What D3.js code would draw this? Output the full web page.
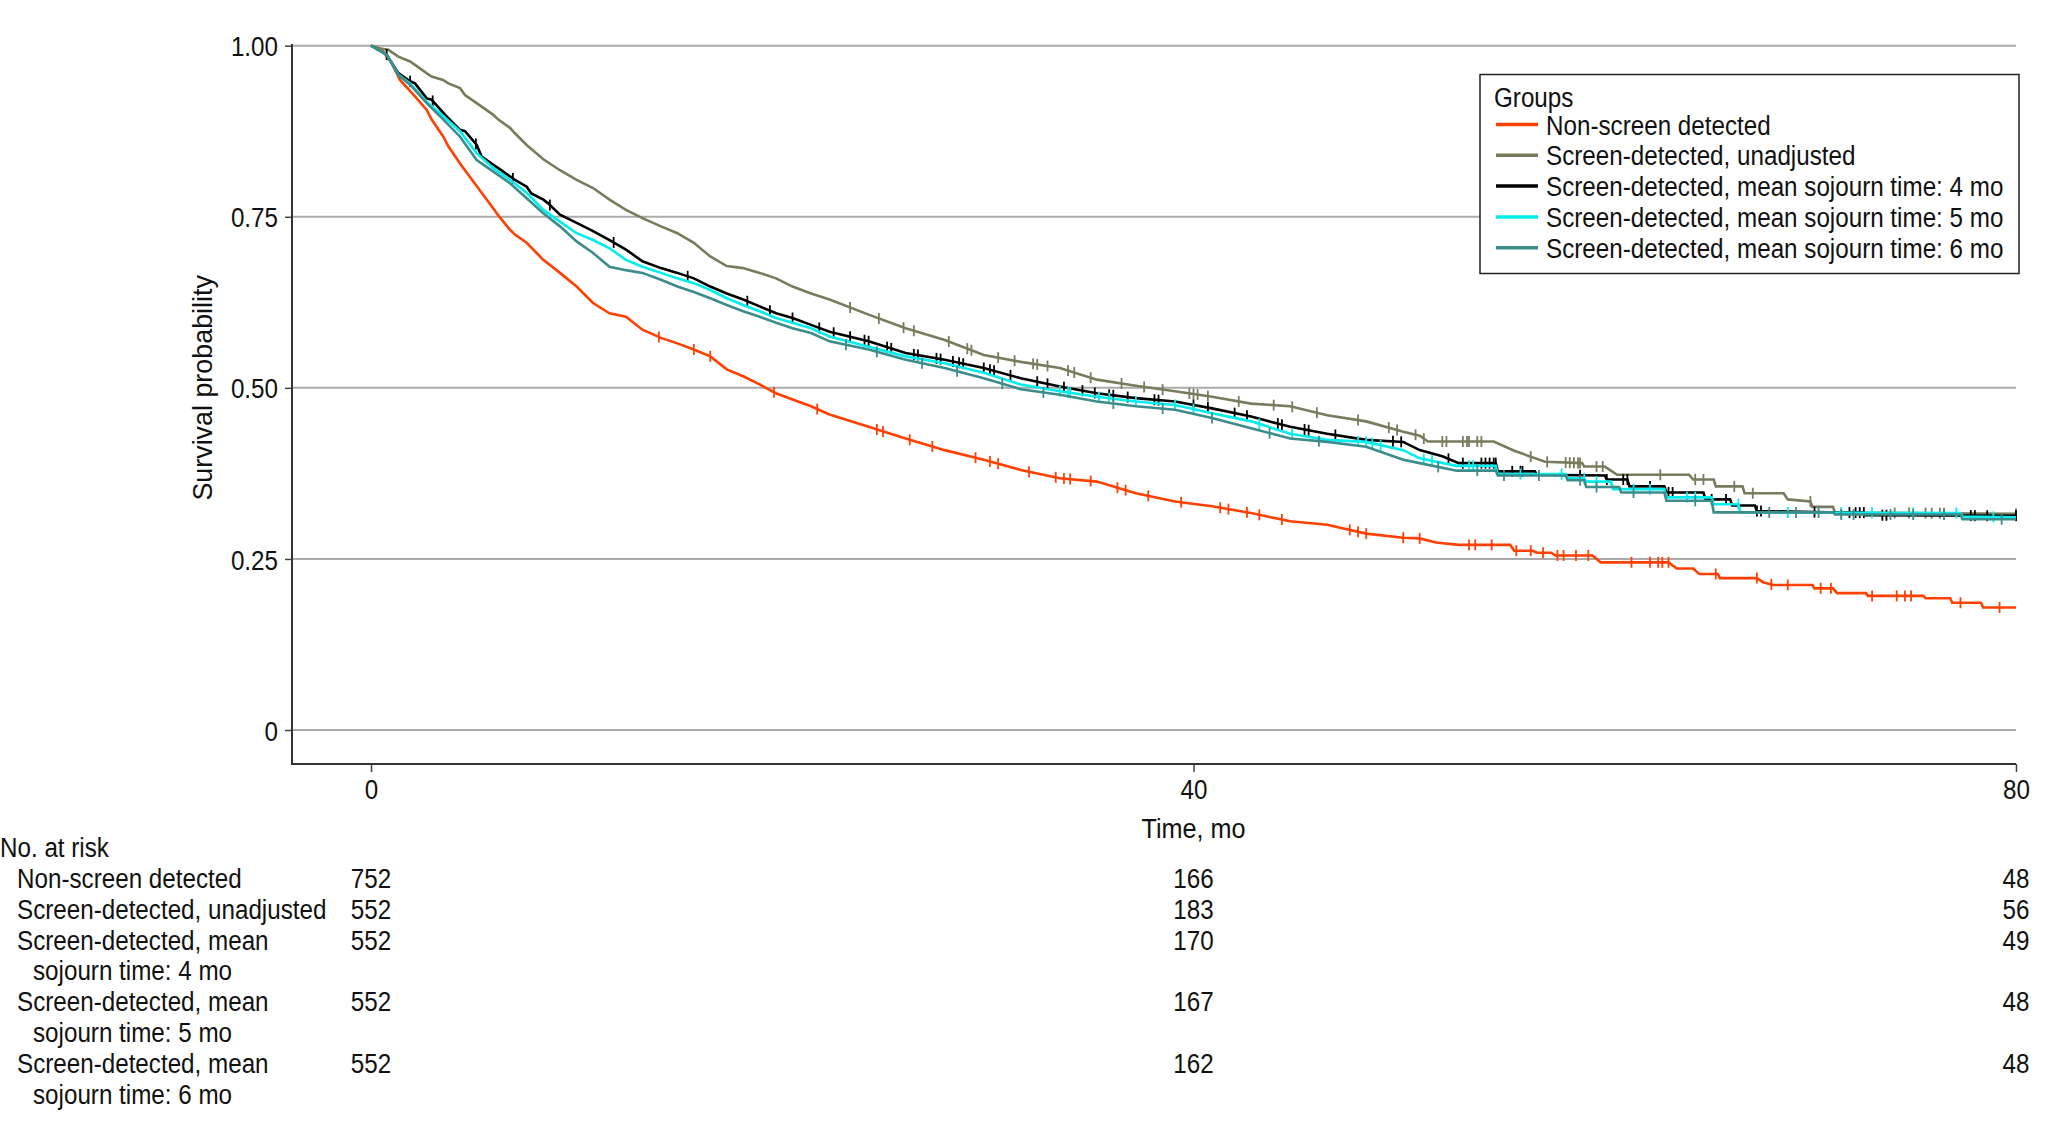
<!DOCTYPE html>
<html>
<head>
<meta charset="utf-8">
<script src="https://cdn.jsdelivr.net/npm/d3@7/dist/d3.min.js"></script>
<style>
  html, body { margin: 0; padding: 0; background: #fff; }
  svg text { font-family: "Liberation Sans", Arial, sans-serif; fill: #111; }
</style>
</head>
<body>
<svg id="chart" width="2048" height="1132"></svg>
<script>
// ---------------- DATA ----------------
const groupNames = [
  "Non-screen detected",
  "Screen-detected, unadjusted",
  "Screen-detected, mean sojourn time: 4 mo",
  "Screen-detected, mean sojourn time: 5 mo",
  "Screen-detected, mean sojourn time: 6 mo"
];
const groupColors = ["#FF4000", "#7A7A5C", "#000000", "#00EEEE", "#3C8C8C"];

// Kaplan-Meier curves: [time (mo), survival probability]
const survNonScreen = [[0,1],[0.5,0.995],[1.0,0.975],[1.41,0.95],[2.14,0.926],[2.71,0.906],[2.95,0.892],[3.52,0.867],[3.76,0.853],[4.33,0.828],[4.57,0.818],[5.14,0.795],[5.38,0.785],[5.95,0.762],[6.19,0.752],[6.76,0.731],[7.0,0.724],[7.57,0.712],[8.38,0.687],[9.19,0.668],[10.0,0.648],[10.8,0.624],[11.6,0.609],[12.4,0.604],[13.2,0.585],[14.1,0.573],[14.9,0.565],[15.7,0.556],[16.5,0.546],[17.3,0.527],[18.1,0.517],[18.9,0.505],[19.7,0.492],[20.5,0.483],[21.4,0.473],[22.3,0.461],[24.2,0.443],[26.0,0.426],[27.9,0.409],[29.8,0.395],[31.6,0.380],[33.5,0.368],[35.3,0.363],[37.2,0.346],[39.1,0.334],[40.9,0.327],[42.8,0.317],[44.7,0.305],[46.5,0.300],[48.4,0.287],[50.2,0.281],[51.0,0.280],[51.8,0.274],[52.9,0.2705],[55.4,0.2705],[55.6,0.262],[56.5,0.262],[56.7,0.259],[57.4,0.259],[57.6,0.255],[59.4,0.255],[59.8,0.245],[63.1,0.245],[63.5,0.236],[64.3,0.236],[64.6,0.228],[65.5,0.228],[65.6,0.222],[67.4,0.222],[67.7,0.216],[68.2,0.212],[70.1,0.212],[70.2,0.207],[71.1,0.207],[71.3,0.200],[72.7,0.200],[72.8,0.196],[75.5,0.196],[75.6,0.1925],[76.8,0.1925],[76.9,0.186],[78.3,0.186],[78.4,0.179],[80,0.179]];
const survUnadjusted = [[0,1],[0.44,0.996],[0.84,0.994],[1.33,0.984],[1.9,0.977],[2.14,0.972],[2.7,0.96],[2.95,0.955],[3.5,0.95],[3.76,0.945],[4.33,0.938],[4.57,0.928],[5.14,0.916],[5.38,0.911],[5.95,0.899],[6.19,0.892],[6.76,0.88],[7.0,0.872],[7.57,0.855],[8.38,0.834],[9.19,0.818],[10.0,0.804],[10.8,0.792],[11.6,0.775],[12.4,0.76],[13.2,0.748],[14.1,0.736],[14.9,0.726],[15.7,0.712],[16.5,0.692],[17.3,0.678],[18.1,0.675],[18.9,0.668],[19.7,0.66],[20.5,0.648],[21.4,0.638],[22.3,0.629],[24.2,0.607],[26.0,0.587],[27.9,0.570],[29.8,0.548],[31.6,0.538],[33.5,0.529],[35.3,0.512],[37.2,0.503],[39.1,0.495],[40.9,0.487],[42.8,0.477],[44.7,0.473],[46.5,0.460],[48.4,0.451],[50.2,0.436],[51.0,0.430],[51.4,0.4215],[54.6,0.4215],[55.6,0.408],[57.1,0.392],[58.9,0.390],[59.0,0.385],[60.0,0.385],[60.6,0.373],[64.1,0.373],[64.3,0.366],[65.3,0.366],[65.4,0.356],[66.7,0.356],[66.8,0.346],[68.7,0.346],[68.9,0.337],[70.0,0.334],[70.1,0.326],[71.1,0.326],[71.2,0.3177],[80,0.316]];
const survMst4 = [[0,1],[0.76,0.987],[1.33,0.96],[1.9,0.948],[2.14,0.945],[2.71,0.923],[2.95,0.921],[3.52,0.902],[3.76,0.894],[4.33,0.877],[4.57,0.875],[5.14,0.855],[5.38,0.838],[5.95,0.826],[6.19,0.821],[6.76,0.809],[7.0,0.804],[7.57,0.794],[7.8,0.784],[8.38,0.775],[8.6,0.770],[9.19,0.753],[10.0,0.741],[10.8,0.729],[11.6,0.716],[12.4,0.702],[13.2,0.685],[14.1,0.675],[14.9,0.668],[15.7,0.66],[16.5,0.648],[17.3,0.638],[18.1,0.629],[18.9,0.619],[19.7,0.609],[20.5,0.602],[21.4,0.592],[22.3,0.582],[24.2,0.568],[26.0,0.551],[27.9,0.541],[29.8,0.529],[31.6,0.514],[33.5,0.502],[35.3,0.492],[37.2,0.485],[39.1,0.480],[40.9,0.470],[42.8,0.458],[44.7,0.443],[46.5,0.433],[48.4,0.424],[50.2,0.421],[51.0,0.409],[52.1,0.400],[52.9,0.390],[54.7,0.390],[54.8,0.378],[56.6,0.378],[56.7,0.373],[60.0,0.372],[60.1,0.366],[61.1,0.366],[61.2,0.356],[62.9,0.356],[63.0,0.347],[64.8,0.347],[64.9,0.337],[66.1,0.337],[66.2,0.328],[67.3,0.328],[67.4,0.320],[71.5,0.3177],[72.6,0.3177],[72.7,0.314],[80,0.313]];
const survMst5 = [[0,1],[0.76,0.987],[1.33,0.958],[1.9,0.945],[2.71,0.918],[3.52,0.897],[4.33,0.875],[5.14,0.843],[5.95,0.821],[6.76,0.804],[7.57,0.785],[8.38,0.760],[9.19,0.743],[10.0,0.726],[10.8,0.716],[11.6,0.704],[12.4,0.687],[13.2,0.677],[14.1,0.668],[14.9,0.660],[15.7,0.653],[16.5,0.643],[17.3,0.631],[18.1,0.621],[18.9,0.612],[19.7,0.602],[20.5,0.595],[21.4,0.587],[22.3,0.575],[24.2,0.560],[26.0,0.546],[27.9,0.536],[29.8,0.522],[31.6,0.505],[33.5,0.495],[35.3,0.487],[37.2,0.480],[39.1,0.475],[40.9,0.463],[42.8,0.451],[44.7,0.433],[46.5,0.424],[48.4,0.421],[50.2,0.409],[51.0,0.397],[52.8,0.386],[54.7,0.386],[54.8,0.374],[58.1,0.374],[58.2,0.368],[59.0,0.368],[59.1,0.363],[60.3,0.363],[60.4,0.352],[62.9,0.352],[63.0,0.340],[65.2,0.340],[65.3,0.330],[66.5,0.330],[66.6,0.318],[77.3,0.317],[77.4,0.312],[80,0.311]];
const survMst6 = [[0,1],[0.76,0.987],[1.33,0.957],[1.9,0.943],[2.71,0.916],[3.52,0.892],[4.33,0.867],[5.14,0.833],[5.95,0.816],[6.76,0.799],[7.57,0.777],[8.38,0.755],[9.19,0.736],[10.0,0.714],[10.8,0.697],[11.6,0.677],[12.4,0.672],[13.2,0.668],[14.1,0.658],[14.9,0.648],[15.7,0.640],[16.5,0.631],[17.3,0.621],[18.1,0.612],[18.9,0.604],[19.7,0.595],[20.5,0.587],[21.4,0.580],[22.3,0.568],[24.2,0.556],[26.0,0.541],[27.9,0.529],[29.8,0.514],[31.6,0.498],[33.5,0.490],[35.3,0.480],[37.2,0.473],[39.1,0.468],[40.9,0.456],[42.8,0.441],[44.7,0.426],[46.5,0.421],[48.4,0.414],[50.2,0.395],[51.0,0.390],[52.8,0.379],[54.7,0.379],[54.8,0.372],[58.1,0.372],[58.2,0.365],[59.0,0.365],[59.1,0.355],[60.7,0.355],[60.8,0.347],[62.9,0.347],[63.0,0.335],[65.2,0.335],[65.3,0.318],[71.1,0.318],[71.2,0.315],[77.3,0.315],[77.4,0.308],[80,0.308]];

// Censoring times (mo)
const censNonScreen = [14.0,15.7,16.5,19.6,21.7,24.6,24.9,26.2,27.3,29.4,30.1,30.5,32.0,33.3,33.7,34.0,35.0,36.3,36.7,37.8,39.4,41.3,41.7,42.6,43.2,44.3,47.6,48.0,48.4,50.2,51.0,53.4,53.7,54.5,55.7,56.4,57.0,57.7,58.0,58.6,59.2,61.3,62.2,62.6,62.8,63.1,65.4,67.4,68.1,68.9,70.5,71.0,73.0,74.2,74.6,74.9,77.3,79.2];
const censUnadjusted = [23.3,24.7,25.9,26.4,28.1,29.0,29.2,30.5,31.3,32.2,32.4,32.9,33.9,34.2,35.0,36.5,37.6,38.5,39.8,40.0,40.2,40.7,42.2,43.9,44.8,46.0,48.0,49.5,49.9,50.8,51.2,52.1,52.3,53.1,53.3,53.4,53.8,54.0,56.4,57.2,58.1,58.3,58.5,58.7,58.8,59.6,59.9,62.7,64.4,64.8,66.3,67.2,70.0,74.1,74.8,75.6,75.9,76.3,76.5,80.0];
const censMst4 = [0.76,1.9,3.0,5.1,6.9,8.7,11.8,15.4,18.3,19.4,20.5,21.8,22.5,23.3,24.0,24.2,25.1,25.3,26.4,26.6,27.5,27.7,28.3,28.6,28.8,29.8,30.1,30.3,31.1,32.4,32.9,33.7,34.6,35.2,35.9,36.1,36.8,38.1,38.3,40.0,40.7,42.0,42.6,44.1,44.3,45.4,45.6,46.9,49.7,50.1,52.4,53.1,54.0,54.2,54.4,54.6,54.7,55.5,55.9,56.0,58.8,60.1,60.9,61.1,62.2,63.1,63.3,65.2,65.9,67.4,67.6,70.2,71.9,72.2,72.4,72.6,73.5,73.7,77.8,78.0,78.6,80.0];
const censMst5 = [33.5,33.9,34.0,35.4,35.9,37.2,39.1,40.0,43.2,44.8,48.0,48.4,48.7,49.1,51.2,51.6,53.4,53.6,55.9,57.9,59.0,59.6,61.4,62.2,64.0,64.4,66.5,68.9,71.5,73.0,75.0,77.1,78.9];
const censMst6 = [23.1,24.6,26.8,28.5,30.7,32.7,36.1,38.5,40.9,43.7,46.1,51.9,53.8,55.1,56.8,58.8,59.6,61.4,64.4,68.0,69.3,70.4,71.5,72.1,73.9,75.0,76.5,79.3];

const xTicks = [0, 40, 80];
const yTicks = [0, 0.25, 0.5, 0.75, 1];
const yTickLabels = ["0", "0.25", "0.50", "0.75", "1.00"];

const riskLabels = [
  ["Non-screen detected"],
  ["Screen-detected, unadjusted"],
  ["Screen-detected, mean", "sojourn time: 4 mo"],
  ["Screen-detected, mean", "sojourn time: 5 mo"],
  ["Screen-detected, mean", "sojourn time: 6 mo"]
];
const riskValues = [
  [752, 166, 48],
  [552, 183, 56],
  [552, 170, 49],
  [552, 167, 48],
  [552, 162, 48]
];

// ---------------- DRAW ----------------
const curves = [survNonScreen, survUnadjusted, survMst4, survMst5, survMst6];
const censors = [censNonScreen, censUnadjusted, censMst4, censMst5, censMst6];

const svg = d3.select("#chart");
const axisLeftX = 292, axisBottomY = 764;
const x = d3.scaleLinear().domain([0, 80]).range([371, 2016]);
const y = d3.scaleLinear().domain([0, 1]).range([730, 45.7]);
const FS = 28;      // font size
const SX = 0.865;   // horizontal condensing of the type

function txt(parent, px, py, str, anchor, sx) {
  return parent.append("text")
    .attr("transform", `translate(${px},${py}) scale(${sx || SX},1)`)
    .attr("text-anchor", anchor || "start")
    .attr("font-size", FS)
    .text(str);
}

// gridlines
svg.append("g").selectAll("line").data(yTicks).join("line")
  .attr("x1", axisLeftX).attr("x2", x(80))
  .attr("y1", d => y(d)).attr("y2", d => y(d))
  .attr("stroke", "#ababab").attr("stroke-width", 2);

// y axis
const yAxis = svg.append("g").attr("transform", `translate(${axisLeftX},0)`)
  .call(d3.axisLeft(y).tickValues(yTicks).tickFormat((d, i) => yTickLabels[i]).tickSize(7).tickPadding(7));
yAxis.select(".domain").remove();
yAxis.selectAll(".tick line").attr("stroke", "#444").attr("stroke-width", 1.5);
yAxis.selectAll(".tick text").attr("font-size", FS).attr("dy", "0.36em")
  .attr("x", -14 / SX).attr("transform", `scale(${SX},1)`);

// x axis
const xAxis = svg.append("g").attr("transform", `translate(0,${axisBottomY})`)
  .call(d3.axisBottom(x).tickValues(xTicks).tickFormat(d3.format("d")).tickSize(8).tickPadding(7));
xAxis.select(".domain").remove();
xAxis.selectAll(".tick line").attr("stroke", "#444").attr("stroke-width", 1.5);
xAxis.selectAll(".tick text").attr("font-size", FS).attr("transform", `scale(${SX},1)`);

// axis lines
svg.append("line").attr("x1", axisLeftX).attr("x2", axisLeftX).attr("y1", 44).attr("y2", axisBottomY)
  .attr("stroke", "#333").attr("stroke-width", 2);
svg.append("line").attr("x1", axisLeftX - 1).attr("x2", x(80)).attr("y1", axisBottomY).attr("y2", axisBottomY)
  .attr("stroke", "#333").attr("stroke-width", 2);

// axis titles
txt(svg, (x(0) + x(80)) / 2, 838, "Time, mo", "middle", 0.9);
svg.append("text")
  .attr("transform", `translate(212,${(y(0) + y(1)) / 2}) rotate(-90) scale(0.96,1)`)
  .attr("text-anchor", "middle").attr("font-size", FS).text("Survival probability");

// curves
const line = d3.line().x(d => x(d[0])).y(d => y(d[1])).curve(d3.curveLinear);
const bis = d3.bisector(d => d[0]).right;
function survAt(c, t) {
  const i = Math.max(0, Math.min(c.length - 2, bis(c, t) - 1));
  const a = c[i], b = c[i + 1];
  if (t >= b[0]) return b[1];
  if (b[0] === a[0]) return b[1];
  return a[1] + (b[1] - a[1]) * (t - a[0]) / (b[0] - a[0]);
}
curves.forEach((c, i) => {
  const g = svg.append("g");
  g.append("path").attr("d", line(c)).attr("fill", "none")
    .attr("stroke", groupColors[i]).attr("stroke-width", 2.6).attr("stroke-linejoin", "miter");
  g.selectAll("line").data(censors[i]).join("line")
    .attr("x1", t => x(t)).attr("x2", t => x(t))
    .attr("y1", t => y(survAt(c, t)) - 5.5)
    .attr("y2", t => y(survAt(c, t)) + 5.5)
    .attr("stroke", groupColors[i]).attr("stroke-width", 1.8);
});

// legend
const lg = svg.append("g");
lg.append("rect").attr("x", 1480).attr("y", 74.5).attr("width", 539).attr("height", 199)
  .attr("fill", "#fff").attr("stroke", "#222").attr("stroke-width", 1.5);
txt(lg, 1494, 107, "Groups");
groupNames.forEach((n, i) => {
  const cy = 124.5 + i * 30.8;
  lg.append("line").attr("x1", 1496).attr("x2", 1538).attr("y1", cy).attr("y2", cy)
    .attr("stroke", groupColors[i]).attr("stroke-width", 3.5);
  txt(lg, 1546, cy + 10, n);
});

// number at risk table
const tg = svg.append("g");
txt(tg, 0, 857, "No. at risk");
let lineIdx = 0;
riskLabels.forEach((lbls, i) => {
  const y0 = 878 + lineIdx * 30.8;
  lbls.forEach((l, j) => {
    txt(tg, j === 0 ? 17 : 33, y0 + j * 30.8 + 10, l);
  });
  riskValues[i].forEach((v, k) => {
    txt(tg, x(xTicks[k]), y0 + 10, String(v), "middle");
  });
  lineIdx += lbls.length;
});
</script>
</body>
</html>
